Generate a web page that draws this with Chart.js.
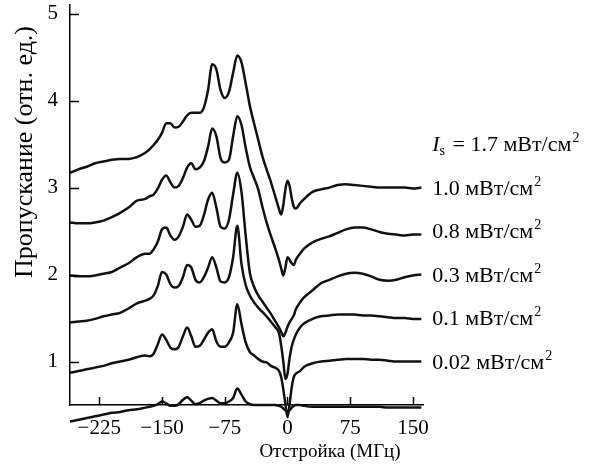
<!DOCTYPE html>
<html>
<head>
<meta charset="utf-8">
<script src="https://cdn.jsdelivr.net/npm/chart.js@4/dist/chart.umd.min.js"></script>
<style>
  html, body { margin: 0; padding: 0; background: #fff; }
  canvas { display: block; }
</style>
</head>
<body>
<canvas id="spectra" width="600" height="468"></canvas>
<script>
// detuning grid, MHz (denser around the central resonance)
const detuning = [
    -260, -250, -240, -230, -220, -210, -200, -190, -180, -170,
    -165, -160, -155, -150, -145, -140, -135, -130, -125, -120,
    -115, -110, -105, -100, -95, -90, -85, -80, -75, -70,
    -65, -60, -55, -50, -45, -40, -35, -30, -25, -20, -15,
    -10, -7.5, -5, -2.5, 0, 2.5, 5, 7.5, 10,
    15, 20,
    30, 40, 50, 60, 70, 80, 90, 100, 110, 120, 130, 140, 150, 160
];

// transmission traces (offset vertically), one per saturating intensity
const trace17 = [
    3.17, 3.21, 3.24, 3.28, 3.30, 3.32, 3.33, 3.33, 3.35, 3.40,
    3.44, 3.49, 3.55, 3.63, 3.74, 3.74, 3.69, 3.70, 3.76, 3.83,
    3.86, 3.86, 3.86, 3.92, 4.12, 4.42, 4.36, 4.12, 4.03, 4.10,
    4.32, 4.52, 4.44, 4.20, 3.94, 3.74, 3.55, 3.36, 3.21, 3.07, 2.91,
    2.75, 2.69, 2.80, 2.98, 3.08, 3.02, 2.88, 2.78, 2.76,
    2.82, 2.87,
    2.95, 2.98, 3.00, 3.03, 3.04, 3.03, 3.02, 3.01, 3.00, 3.00, 3.00, 3.00, 2.99, 3.00
];
const trace10 = [
    2.60, 2.59, 2.59, 2.60, 2.62, 2.66, 2.71, 2.77, 2.85, 2.87,
    2.90, 2.92, 2.99, 3.09, 3.14, 3.06, 3.00, 3.02, 3.11, 3.23,
    3.28, 3.21, 3.23, 3.30, 3.47, 3.68, 3.59, 3.34, 3.29, 3.32,
    3.59, 3.82, 3.72, 3.46, 3.24, 3.11, 2.98, 2.78, 2.60, 2.45, 2.31,
    2.16, 2.07, 1.99, 2.08, 2.20, 2.17, 2.13, 2.11, 2.17,
    2.24, 2.30,
    2.37, 2.41, 2.44, 2.48, 2.52, 2.54, 2.54, 2.52, 2.49, 2.47, 2.46, 2.45, 2.46, 2.46
];
const trace08 = [
    1.99, 1.98, 1.98, 1.99, 2.01, 2.03, 2.08, 2.13, 2.20, 2.24,
    2.24, 2.29, 2.38, 2.52, 2.54, 2.45, 2.40, 2.44, 2.55, 2.69,
    2.63, 2.55, 2.56, 2.68, 2.86, 2.94, 2.77, 2.55, 2.53, 2.63,
    2.92, 3.17, 2.95, 2.45, 2.02, 1.86, 1.76, 1.69, 1.62, 1.55, 1.47,
    1.39, 1.34, 1.29, 1.33, 1.40, 1.45, 1.49, 1.53, 1.60,
    1.68, 1.74,
    1.82, 1.90, 1.94, 1.98, 2.01, 2.02, 2.01, 1.98, 1.94, 1.93, 1.94, 1.97, 1.99, 2.00
];
const trace03 = [
    1.45, 1.46, 1.47, 1.49, 1.52, 1.54, 1.56, 1.61, 1.67, 1.70,
    1.72, 1.76, 1.87, 2.03, 2.00, 1.89, 1.85, 1.87, 1.97, 2.11,
    2.08, 1.94, 1.91, 1.97, 2.08, 2.20, 2.08, 1.92, 1.91, 1.97,
    2.20, 2.56, 2.12, 1.88, 1.76, 1.68, 1.62, 1.57, 1.52, 1.46, 1.40,
    1.32, 1.18, 1.00, 0.80, 0.86, 1.04, 1.17, 1.25, 1.31,
    1.39, 1.44,
    1.49, 1.52, 1.53, 1.54, 1.54, 1.54, 1.53, 1.53, 1.52, 1.51, 1.50, 1.50, 1.49, 1.49
];
const trace01 = [
    0.87, 0.89, 0.91, 0.93, 0.95, 0.98, 1.00, 1.02, 1.05, 1.07,
    1.06, 1.09, 1.20, 1.31, 1.25, 1.16, 1.14, 1.17, 1.29, 1.39,
    1.29, 1.17, 1.18, 1.25, 1.33, 1.37, 1.23, 1.17, 1.17, 1.22,
    1.33, 1.66, 1.43, 1.22, 1.11, 1.07, 1.03, 1.00, 0.99, 0.95, 0.93,
    0.89, 0.82, 0.68, 0.51, 0.36, 0.51, 0.70, 0.82, 0.86,
    0.89, 0.94,
    0.98, 1.00, 1.01, 1.02, 1.03, 1.03, 1.03, 1.02, 1.02, 1.01, 1.00, 1.00, 1.00, 1.00
];
const trace002 = [
    0.31, 0.33, 0.35, 0.37, 0.39, 0.41, 0.42, 0.44, 0.45, 0.47,
    0.48, 0.49, 0.51, 0.54, 0.52, 0.49, 0.49, 0.51, 0.56, 0.59,
    0.55, 0.51, 0.52, 0.55, 0.57, 0.58, 0.55, 0.52, 0.52, 0.54,
    0.58, 0.69, 0.62, 0.54, 0.51, 0.50, 0.50, 0.50, 0.50, 0.50, 0.50,
    0.49, 0.48, 0.46, 0.44, 0.42, 0.44, 0.47, 0.49, 0.50,
    0.50, 0.49,
    0.48, 0.48, 0.48, 0.48, 0.48, 0.48, 0.48, 0.48, 0.48, 0.47, 0.47, 0.47, 0.47, 0.47
];

const traces = [trace17, trace10, trace08, trace03, trace01, trace002];
const intensities = ['1.7', '1.0', '0.8', '0.3', '0.1', '0.02'];
const labelLevels = [3.5, 3.0, 2.5, 2.0, 1.5, 1.0];   // where each caption sits on the y scale
const labelDetuning = 173;

const xTicks = [-225, -150, -75, 0, 75, 150];
const yTicks = [1, 2, 3, 4, 5];

const SERIF = '"Liberation Serif", "Times New Roman", serif';

const fmt = v => (v < 0 ? '\u2212' + Math.abs(v) : String(v));

// keep the plot box fixed: no extra room reserved for overhanging tick labels
const noPad = s => { s.paddingTop = 0; s.paddingBottom = 0; s.paddingLeft = 0; s.paddingRight = 0; };

// inner tick marks, the intensity captions and both axis titles
const decor = {
    id: 'decor',
    afterDraw(chart) {
        const { ctx, chartArea: area, scales: { x, y } } = chart;
        ctx.save();
        ctx.strokeStyle = '#000';
        ctx.lineWidth = 1.5;
        ctx.beginPath();
        y.ticks.forEach(t => {
            const py = Math.round(y.getPixelForValue(t.value)) + 0.5;
            ctx.moveTo(area.left, py);
            ctx.lineTo(area.left + 9, py);
        });
        x.ticks.forEach(t => {
            const px = Math.round(x.getPixelForValue(t.value)) + 0.5;
            ctx.moveTo(px, area.bottom);
            ctx.lineTo(px, area.bottom - 8);
        });
        ctx.stroke();

        ctx.fillStyle = '#000';
        ctx.textBaseline = 'alphabetic';
        intensities.forEach((val, i) => {
            let px = x.getPixelForValue(labelDetuning);
            const py = y.getPixelForValue(labelLevels[i]) + 7;
            if (i === 0) {
                ctx.font = 'italic 22px ' + SERIF;
                ctx.fillText('I', px, py);
                px += ctx.measureText('I').width;
                ctx.font = '14px ' + SERIF;
                ctx.fillText('s', px, py + 4);
                px += ctx.measureText('s').width + 2;
                ctx.font = '22px ' + SERIF;
                const eq = ' = ' + val + ' мВт/см';
                ctx.fillText(eq, px, py);
                px += ctx.measureText(eq).width;
            } else {
                ctx.font = '22px ' + SERIF;
                const txt = val + ' мВт/см';
                ctx.fillText(txt, px, py);
                px += ctx.measureText(txt).width;
            }
            ctx.font = '14px ' + SERIF;
            ctx.fillText('2', px + 1, py - 9);
        });

        ctx.textAlign = 'center';
        ctx.textBaseline = 'middle';
        ctx.font = '19px ' + SERIF;
        ctx.fillText('Отстройка (МГц)', 330, 452);
        ctx.font = '26px ' + SERIF;
        ctx.translate(25, 152);
        ctx.rotate(-Math.PI / 2);
        ctx.fillText('Пропускание (отн. ед.)', 0, 0);
        ctx.restore();
    }
};

new Chart(document.getElementById('spectra'), {
    type: 'line',
    data: {
        datasets: traces.map(tr => ({
            data: tr.map((v, i) => ({ x: detuning[i], y: v })),
            borderColor: '#111',
            borderWidth: 2.5,
            pointRadius: 0,
            cubicInterpolationMode: 'monotone',
            clip: false
        }))
    },
    options: {
        responsive: false,
        animation: false,
        events: [],
        layout: { padding: { top: 5, right: 177, left: 0, bottom: 0 } },
        plugins: { legend: { display: false }, tooltip: { enabled: false } },
        scales: {
            x: {
                type: 'linear',
                min: -260,
                max: 162,
                afterBuildTicks: s => { s.ticks = xTicks.map(v => ({ value: v })); },
                afterFit: s => { s.height = 63; noPad(s); },
                grid: { drawOnChartArea: false, drawTicks: false },
                border: { color: '#000', width: 1.5 },
                ticks: { color: '#000', padding: 11, maxRotation: 0, font: { family: SERIF, size: 21 }, callback: fmt }
            },
            y: {
                min: 0.5,
                max: 5.1,
                afterBuildTicks: s => { s.ticks = yTicks.map(v => ({ value: v })); },
                afterFit: s => { s.width = 70; noPad(s); },
                grid: { drawOnChartArea: false, drawTicks: false },
                border: { color: '#000', width: 1.5 },
                ticks: { color: '#000', padding: 12, font: { family: SERIF, size: 21 }, callback: fmt }
            }
        }
    },
    plugins: [decor]
});
</script>
</body>
</html>
